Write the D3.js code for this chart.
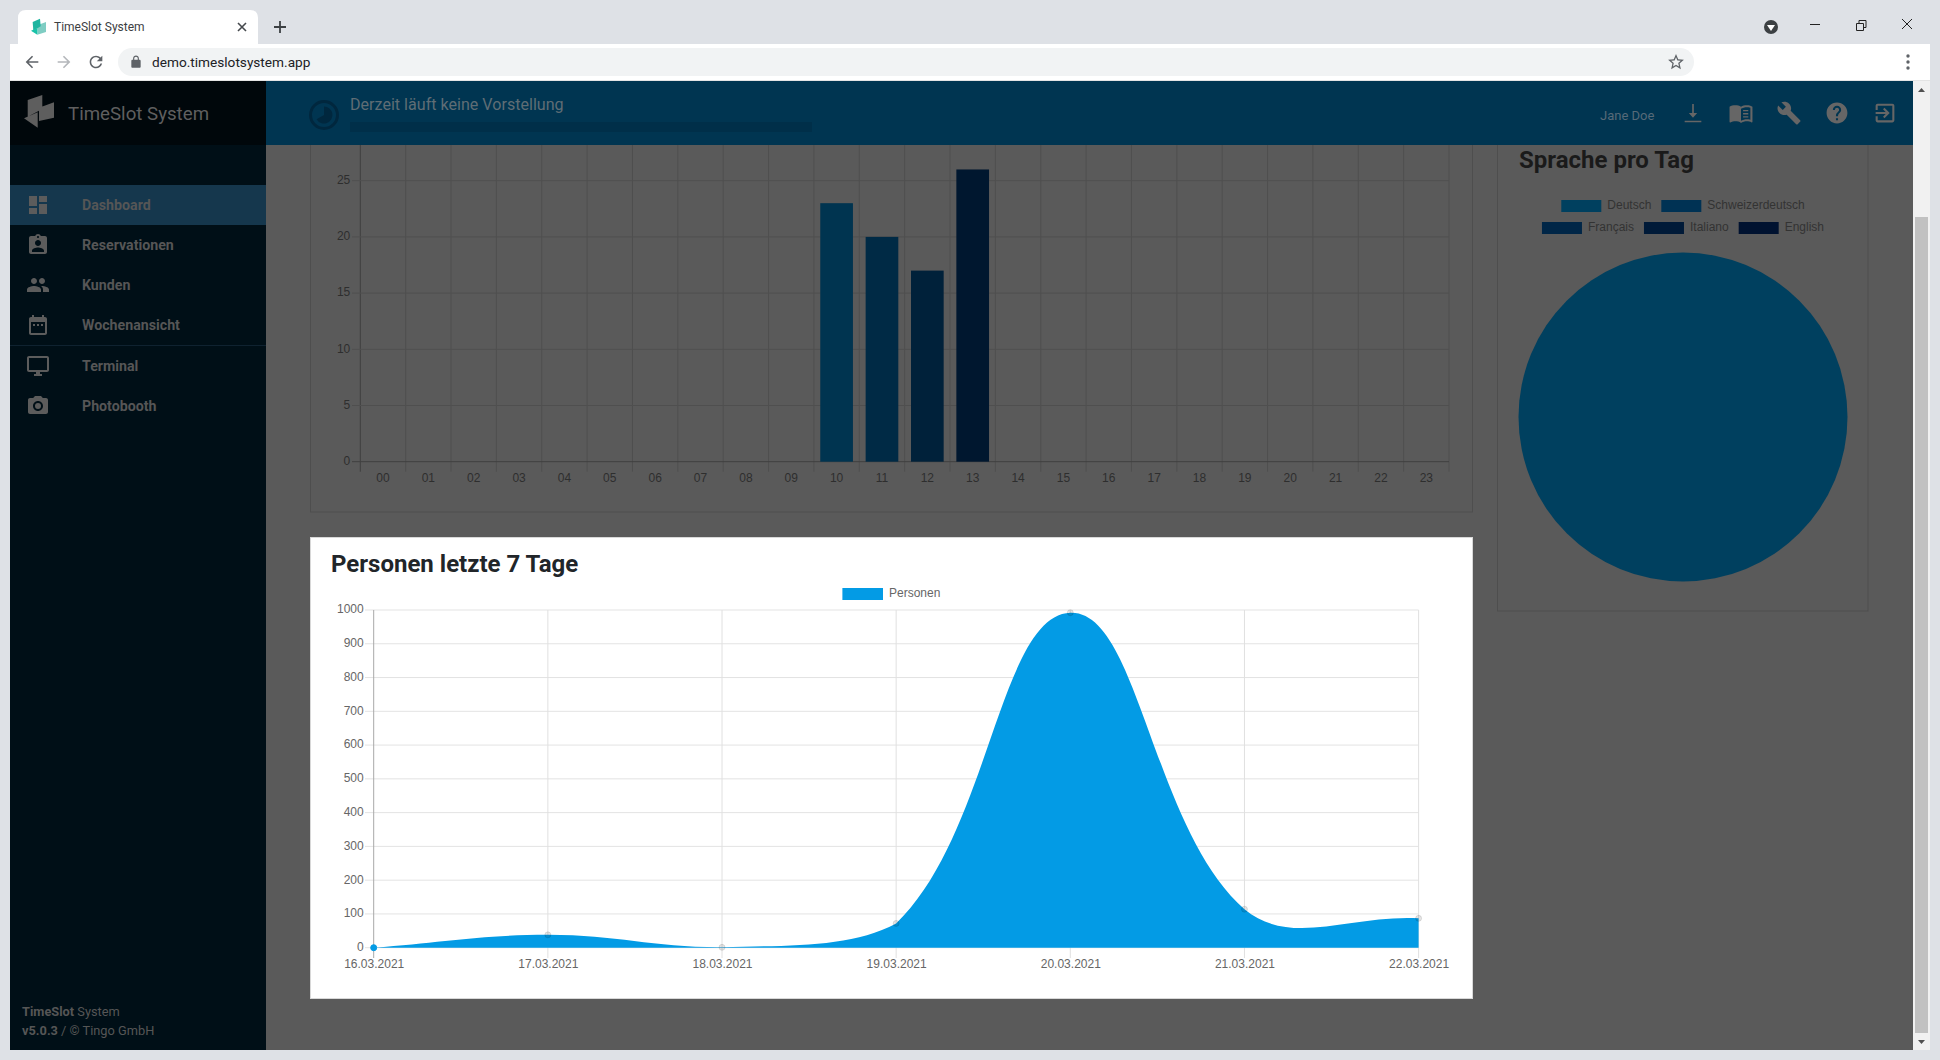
<!DOCTYPE html>
<html>
<head>
<meta charset="utf-8">
<title>TimeSlot System</title>
<script src="https://cdnjs.cloudflare.com/ajax/libs/d3/7.8.5/d3.min.js"></script>
<style>
  html, body { margin: 0; padding: 0; background: #dee1e6; overflow: hidden; }
  svg { display: block; }
  text { font-family: Roboto, sans-serif; }
  .chartjs text, text.chartjs { font-family: "Liberation Sans", Arial, sans-serif; font-size: 12px; }
</style>
</head>
<body>
<div id="page"></div>
<script>
// hourly bar chart
var hours = ["00","01","02","03","04","05","06","07","08","09","10","11","12","13","14","15","16","17","18","19","20","21","22","23"];
var hourValues = [0,0,0,0,0,0,0,0,0,0,23,20,17,26,0,0,0,0,0,0,0,0,0,0];
var hourTicks = [0,5,10,15,20,25,30];
var hourColors = ["#003450","#002a45","#00213a","#00172f"];

// language pie
var languages = ["Deutsch","Schweizerdeutsch","Français","Italiano","English"];
var languageValues = [100,0,0,0,0];
var languageColors = ["#00405f","#003254","#002647","#001a38","#001230"];

// persons line
var days = ["16.03.2021","17.03.2021","18.03.2021","19.03.2021","20.03.2021","21.03.2021","22.03.2021"];
var persons = [0,38,1,72,992,114,87];
var personTicks = [0,100,200,300,400,500,600,700,800,900,1000];

var menuLabels = ["Dashboard","Reservationen","Kunden","Wochenansicht","Terminal","Photobooth"];

// material icon paths
var icons = {
  dashboard: "M3 13h8V3H3v10zm0 8h8v-6H3v6zm10 0h8V11h-8v10zm0-18v6h8V3h-8z",
  assign: "M19 3h-4.18C14.4 1.84 13.3 1 12 1c-1.3 0-2.4.84-2.82 2H5c-1.1 0-2 .9-2 2v14c0 1.1.9 2 2 2h14c1.1 0 2-.9 2-2V5c0-1.1-.9-2-2-2zm-7 0c.55 0 1 .45 1 1s-.45 1-1 1-1-.45-1-1 .45-1 1-1zm0 4c1.66 0 3 1.34 3 3s-1.34 3-3 3-3-1.34-3-3 1.34-3 3-3zm6 12H6v-1.4c0-2 4-3.1 6-3.1s6 1.1 6 3.1V19z",
  people: "M16 11c1.66 0 2.99-1.34 2.99-3S17.66 5 16 5c-1.66 0-3 1.34-3 3s1.34 3 3 3zm-8 0c1.66 0 2.99-1.34 2.99-3S9.66 5 8 5C6.34 5 5 6.34 5 8s1.34 3 3 3zm0 2c-2.33 0-7 1.17-7 3.5V19h14v-2.5c0-2.33-4.67-3.5-7-3.5zm8 0c-.29 0-.62.02-.97.05 1.16.84 1.97 1.97 1.97 3.45V19h6v-2.5c0-2.33-4.67-3.5-7-3.5z",
  calendar: "M9 11H7v2h2v-2zm4 0h-2v2h2v-2zm4 0h-2v2h2v-2zm2-7h-1V2h-2v2H8V2H6v2H5c-1.11 0-1.99.9-1.99 2L3 20c0 1.1.89 2 2 2h14c1.1 0 2-.9 2-2V6c0-1.1-.9-2-2-2zm0 16H5V9h14v11z",
  desktop: "M21 2H3c-1.1 0-2 .9-2 2v12c0 1.1.9 2 2 2h7v2H8v2h8v-2h-2v-2h7c1.1 0 2-.9 2-2V4c0-1.1-.9-2-2-2zm0 14H3V4h18v12z",
  camera: "M9 2L7.17 4H4c-1.1 0-2 .9-2 2v12c0 1.1.9 2 2 2h16c1.1 0 2-.9 2-2V6c0-1.1-.9-2-2-2h-3.17L15 2H9zm3 15c-2.76 0-5-2.24-5-5s2.24-5 5-5 5 2.24 5 5-2.24 5-5 5zM12 9a3 3 0 1 0 0 6 3 3 0 0 0 0-6z",
  download: "M11.2 3.4h1.6v8.6H16l-4 4.6-4-4.6h3.2zM4 19.4h16v1.5H4z",
  book: "M21 5c-1.11-.35-2.33-.5-3.5-.5-1.95 0-4.05.4-5.5 1.5-1.45-1.1-3.55-1.5-5.5-1.5S2.45 4.9 1 6v14.65c0 .25.25.5.5.5.1 0 .15-.05.25-.05C3.1 20.45 5.05 20 6.5 20c1.95 0 4.05.4 5.5 1.5 1.35-.85 3.8-1.5 5.5-1.5 1.65 0 3.35.3 4.75 1.05.1.05.15.05.25.05.25 0 .5-.25.5-.5V6c-.6-.45-1.25-.75-2-1zm0 13.5c-1.1-.35-2.3-.5-3.5-.5-1.7 0-4.15.65-5.5 1.5V8c1.35-.85 3.8-1.5 5.5-1.5 1.2 0 2.4.15 3.5.5v11.5zM14 9h5v1.4h-5zm0 3h5v1.4h-5zm0 3h5v1.4h-5z",
  wrench: "M22.7 19l-9.1-9.1c.9-2.3.4-5-1.5-6.9-2-2-5-2.4-7.4-1.3L9 6 6 9 1.6 4.7C.4 7.1.9 10.1 2.9 12.1c1.9 1.9 4.6 2.4 6.9 1.5l9.1 9.1c.4.4 1 .4 1.4 0l2.3-2.3c.5-.4.5-1.1.1-1.4z",
  help: "M12 2C6.48 2 2 6.48 2 12s4.48 10 10 10 10-4.48 10-10S17.52 2 12 2zm1 17h-2v-2h2v2zm2.07-7.75l-.9.92C13.45 12.9 13 13.5 13 15h-2v-.5c0-1.1.45-2.1 1.17-2.83l1.24-1.26c.37-.36.59-.86.59-1.41 0-1.1-.9-2-2-2s-2 .9-2 2H8c0-2.21 1.79-4 4-4s4 1.79 4 4c0 .88-.36 1.68-.93 2.25z",
  exit: "M10.09 15.59L11.5 17l5-5-5-5-1.41 1.41L12.67 11H3v2h9.67l-2.58 2.59zM19 3H5c-1.11 0-2 .9-2 2v4h2V5h14v14H5v-4H3v4c0 1.1.89 2 2 2h14c1.1 0 2-.9 2-2V5c0-1.1-.9-2-2-2z",
  back: "M20 11H7.83l5.59-5.59L12 4l-8 8 8 8 1.41-1.41L7.83 13H20v-2z",
  forward: "M4 11h12.17l-5.59-5.59L12 4l8 8-8 8-1.41-1.41L16.17 13H4v-2z",
  reload: "M17.65 6.35C16.2 4.9 14.21 4 12 4c-4.42 0-7.99 3.58-7.99 8s3.57 8 7.99 8c3.73 0 6.84-2.55 7.73-6h-2.08c-.82 2.33-3.04 4-5.65 4-3.31 0-6-2.69-6-6s2.69-6 6-6c1.66 0 3.14.69 4.22 1.78L13 11h7V4l-2.35 2.35z",
  lock: "M18 8h-1V6c0-2.76-2.24-5-5-5S7 3.24 7 6v2H6c-1.1 0-2 .9-2 2v10c0 1.1.9 2 2 2h12c1.1 0 2-.9 2-2V10c0-1.1-.9-2-2-2zM9 6c0-1.66 1.34-3 3-3s3 1.34 3 3v2H9V6z",
  star: "M22 9.24l-7.19-.62L12 2 9.19 8.63 2 9.24l5.46 4.73L5.82 21 12 17.27 18.18 21l-1.63-7.03L22 9.24zM12 15.4l-3.76 2.27 1-4.28-3.32-2.88 4.38-.38L12 6.1l1.71 4.04 4.38.38-3.32 2.88 1 4.28L12 15.4z"
};
var menuIcons = ["dashboard","assign","people","calendar","desktop","camera"];
var headerIcons = ["download","book","wrench","help","exit"];

var svg = d3.select("#page").append("svg").attr("width", 1940).attr("height", 1060);

function txt(parent, x, y, s, size, color, weight, anchor) {
  return parent.append("text").attr("x", x).attr("y", y).attr("dy", "0.35em")
    .attr("font-size", size).attr("fill", color).attr("font-weight", weight || 400)
    .attr("text-anchor", anchor || "start").text(s);
}
function icon(parent, name, cx, cy, size, color) {
  var k = size / 24;
  parent.append("path").attr("d", icons[name]).attr("fill", color).attr("fill-rule", "evenodd")
    .attr("transform", "translate(" + (cx - 12 * k) + "," + (cy - 12 * k) + ") scale(" + k + ")");
}

// same spline chart.js draws with tension 0.4, control points capped to the chart area
function curveTension(tension, top, bottom) {
  return function(context) {
    return {
      areaStart: function() { this._line = 0; },
      areaEnd: function() { this._line = NaN; },
      lineStart: function() { this._p = []; },
      point: function(x, y) { this._p.push([x, y]); },
      lineEnd: function() {
        var p = this._p, n = p.length, cps = [];
        for (var i = 0; i < n; i++) {
          var a = p[Math.max(i - 1, 0)], b = p[i], c = p[Math.min(i + 1, n - 1)];
          var d01 = Math.hypot(b[0] - a[0], b[1] - a[1]), d12 = Math.hypot(c[0] - b[0], c[1] - b[1]);
          var sum = d01 + d12 || 1;
          var fa = tension * d01 / sum, fb = tension * d12 / sum;
          var dx = c[0] - a[0], dy = c[1] - a[1];
          cps.push({
            px: b[0] - fa * dx, py: Math.max(top, Math.min(bottom, b[1] - fa * dy)),
            nx: b[0] + fb * dx, ny: Math.max(top, Math.min(bottom, b[1] + fb * dy))
          });
        }
        if (this._line) context.lineTo(p[0][0], p[0][1]);
        else context.moveTo(p[0][0], p[0][1]);
        for (var j = 1; j < n; j++) {
          context.bezierCurveTo(cps[j - 1].nx, cps[j - 1].ny, cps[j].px, cps[j].py, p[j][0], p[j][1]);
        }
        if (this._line) context.closePath();
        this._line = 1 - this._line;
      }
    };
  };
}

// --- page background (dimmed by the tour overlay) ---
svg.append("rect").attr("x", 266).attr("y", 81).attr("width", 1647).attr("height", 969).attr("fill", "#5a5a5a");

// --- hourly bars card ---
var barCard = svg.append("g").attr("class", "chartjs");
barCard.append("rect").attr("x", 310.5).attr("y", 100).attr("width", 1162).attr("height", 412)
  .attr("fill", "none").attr("stroke", "#4e4e4e");

var barX = d3.scaleBand().domain(hours).range([360.3, 1449]).paddingInner(0.28).paddingOuter(0.14);
var barY = d3.scaleLinear().domain([0, 30]).range([461.7, 124.5]);
var step = barX.step();

barCard.append("g").selectAll("line").data(d3.range(25)).enter().append("line")
  .attr("x1", function(d) { return 360.3 + d * step; })
  .attr("x2", function(d) { return 360.3 + d * step; })
  .attr("y1", 124).attr("y2", 471.7)
  .attr("stroke", function(d) { return d == 0 ? "#3f3f3f" : "#4f4f4f"; });

barCard.append("g").selectAll("line").data(hourTicks).enter().append("line")
  .attr("x1", 352).attr("x2", 1449)
  .attr("y1", function(d) { return barY(d); }).attr("y2", function(d) { return barY(d); })
  .attr("stroke", function(d) { return d == 0 ? "#3f3f3f" : "#4f4f4f"; });

var barYAxis = d3.axisLeft(barY).tickValues(hourTicks).tickSize(0).tickPadding(10);
var byg = barCard.append("g").attr("transform", "translate(360.3,-1)").call(barYAxis);
byg.select(".domain").remove();
byg.selectAll("text").attr("fill", "#2e2e2e").attr("font-size", 12);

var barXAxis = d3.axisBottom(barX).tickSize(0).tickPadding(12);
var bxg = barCard.append("g").attr("transform", "translate(0,461.7)").call(barXAxis);
bxg.select(".domain").remove();
bxg.selectAll("text").attr("fill", "#2e2e2e").attr("font-size", 12);

barCard.append("g").selectAll("rect").data(hourValues).enter().append("rect")
  .attr("x", function(d, i) { return barX(hours[i]); })
  .attr("y", function(d) { return barY(d); })
  .attr("width", barX.bandwidth())
  .attr("height", function(d) { return barY(0) - barY(d); })
  .attr("fill", function(d, i) { return hourColors[(i - 10 + 4) % 4]; });

// --- language card ---
var langCard = svg.append("g");
langCard.append("rect").attr("x", 1497.5).attr("y", 100).attr("width", 370.5).attr("height", 511)
  .attr("fill", "none").attr("stroke", "#4e4e4e");
txt(langCard, 1519, 160, "Sprache pro Tag", 24, "#1a1a1a", 700);

var legendRows = [[0, 1], [2, 3, 4]];
legendRows.forEach(function(row, r) {
  var ly = 200 + r * 22;
  var items = row.map(function(i) {
    var g = langCard.append("g").attr("class", "chartjs");
    var t = g.append("text").attr("y", ly + 5).attr("dy", "0.35em").attr("fill", "#333").attr("font-size", 12).text(languages[i]);
    g.append("rect").attr("y", ly).attr("width", 40).attr("height", 12).attr("fill", languageColors[i]);
    return { g: g, w: 46 + t.node().getComputedTextLength() };
  });
  var total = d3.sum(items, function(d) { return d.w; }) + 10 * (items.length - 1);
  var cx = 1683 - total / 2;
  items.forEach(function(it) {
    it.g.attr("transform", "translate(" + cx + ",0)");
    it.g.select("text").attr("x", 46);
    cx += it.w + 10;
  });
});

var pie = d3.pie().sort(null);
var arc = d3.arc().innerRadius(0).outerRadius(164.5);
langCard.append("g").attr("transform", "translate(1683,417)")
  .selectAll("path").data(pie(languageValues)).enter().append("path")
  .attr("d", arc).attr("fill", function(d, i) { return languageColors[i]; });

// --- persons card, the one lit by the tour ---
var lineCard = svg.append("g").attr("class", "chartjs");
lineCard.append("rect").attr("x", 310.5).attr("y", 537.5).attr("width", 1162).attr("height", 461)
  .attr("fill", "#fff").attr("stroke", "#d8d8d8");
var lineTitle = txt(svg, 331, 564, "Personen letzte 7 Tage", 24, "#212529", 700);

lineCard.append("rect").attr("x", 842.4).attr("y", 588).attr("width", 40.6).attr("height", 12).attr("fill", "#039be5");
lineCard.append("text").attr("x", 889).attr("y", 593).attr("dy", "0.35em").attr("fill", "#666").attr("font-size", 12).text("Personen");

var lineX = d3.scalePoint().domain(days).range([373.7, 1418.6]);
var lineY = d3.scaleLinear().domain([0, 1000]).range([947.7, 610]);

lineCard.append("g").selectAll("line").data(personTicks).enter().append("line")
  .attr("x1", 365).attr("x2", 1418.6)
  .attr("y1", function(d) { return lineY(d); }).attr("y2", function(d) { return lineY(d); })
  .attr("stroke", "#e3e3e3");
lineCard.append("g").selectAll("line").data(days).enter().append("line")
  .attr("x1", function(d) { return lineX(d); }).attr("x2", function(d) { return lineX(d); })
  .attr("y1", 610).attr("y2", 958)
  .attr("stroke", function(d, i) { return i == 0 ? "#a8a8a8" : "#e0e0e0"; });

var lyg = lineCard.append("g").attr("transform", "translate(373.7,-1)")
  .call(d3.axisLeft(lineY).tickValues(personTicks).tickFormat(d3.format("d")).tickSize(0).tickPadding(10));
lyg.select(".domain").remove();
lyg.selectAll("text").attr("fill", "#666").attr("font-size", 12);

var lxg = lineCard.append("g").attr("transform", "translate(0,947.7)")
  .call(d3.axisBottom(lineX).tickSize(0).tickPadding(12));
lxg.select(".domain").remove();
lxg.selectAll("text").attr("fill", "#666").attr("font-size", 12);

var area = d3.area()
  .x(function(d, i) { return lineX(days[i]); })
  .y0(lineY(0))
  .y1(function(d) { return lineY(d); })
  .curve(curveTension(0.4, 610, 947.7));
lineCard.append("path").datum(persons).attr("d", area).attr("fill", "#039be5");

lineCard.append("g").selectAll("circle").data(persons).enter().append("circle")
  .attr("cx", function(d, i) { return lineX(days[i]); })
  .attr("cy", function(d) { return lineY(d); })
  .attr("r", 3)
  .attr("fill", function(d, i) { return i == 0 ? "#039be5" : "rgba(0,0,0,0.1)"; })
  .attr("stroke", function(d, i) { return i == 0 ? "#039be5" : "rgba(0,0,0,0.1)"; });

// --- app header ---
var head = svg.append("g");
head.append("rect").attr("x", 266).attr("y", 81).attr("width", 1647).attr("height", 64).attr("fill", "#003551");
head.append("circle").attr("cx", 324).attr("cy", 115).attr("r", 13.5).attr("fill", "none").attr("stroke", "#00273e").attr("stroke-width", 3);
head.append("path").attr("transform", "translate(324,115)").attr("fill", "#00273e")
  .attr("d", d3.arc().innerRadius(0).outerRadius(8.5)({ startAngle: 0, endAngle: 4.2 }));
txt(head, 350, 104, "Derzeit läuft keine Vorstellung", 16.1, "#5f6d75");
head.append("rect").attr("x", 350).attr("y", 122).attr("width", 462).attr("height", 10).attr("fill", "#002f49");
txt(head, 1600, 115, "Jane Doe", 13, "#566a78", 400);
headerIcons.forEach(function(n, i) { icon(head, n, 1693 + i * 48, 113, 25, "#666"); });

// --- sidebar ---
var side = svg.append("g");
side.append("rect").attr("x", 10).attr("y", 81).attr("width", 256).attr("height", 969).attr("fill", "#000f17");
side.append("rect").attr("x", 10).attr("y", 81).attr("width", 256).attr("height", 64).attr("fill", "#00070b");
side.append("path").attr("fill", "#5e5e5e").attr("d", "M27.7 100 L42.3 95 L42.3 109 L27.7 116.7 Z M39 107.7 L54 102.3 L54 117.7 L39 121 Z M24 118.3 L37.7 112.3 L37.7 127.7 Z");
txt(side, 68, 113, "TimeSlot System", 18.7, "#5f5f5f");
side.append("rect").attr("x", 10).attr("y", 185).attr("width", 256).attr("height", 40).attr("fill", "#15374d");
side.append("line").attr("x1", 10).attr("x2", 266).attr("y1", 345.5).attr("y2", 345.5).attr("stroke", "#0f2230");
var menuY = [205, 245, 285, 325, 366, 406];
menuLabels.forEach(function(l, i) {
  icon(side, menuIcons[i], 38, menuY[i], 24, "#5c5c5c");
  txt(side, 82, menuY[i], l, 14.2, "#565656", 700);
});
var foot1 = txt(side, 22, 1012, "", 12.8, "#565656");
foot1.append("tspan").attr("font-weight", 700).text("TimeSlot");
foot1.append("tspan").text(" System");
var foot2 = txt(side, 22, 1031, "", 12.8, "#565656");
foot2.append("tspan").attr("font-weight", 700).text("v5.0.3");
foot2.append("tspan").text(" / © Tingo GmbH");

// --- scrollbar ---
svg.append("rect").attr("x", 1913).attr("y", 81).attr("width", 17).attr("height", 969).attr("fill", "#f1f1f1");
svg.append("rect").attr("x", 1915).attr("y", 217).attr("width", 13).attr("height", 816).attr("fill", "#c1c1c1");
svg.append("path").attr("fill", "#505050").attr("d", "M1918 92 L1925 92 L1921.5 88 Z M1918 1040 L1925 1040 L1921.5 1044 Z");

// --- browser chrome ---
var chrome = svg.append("g");
chrome.append("rect").attr("width", 1940).attr("height", 44).attr("fill", "#dee1e6");
chrome.append("rect").attr("x", 10).attr("y", 44).attr("width", 1920).attr("height", 36).attr("fill", "#fff");
chrome.append("rect").attr("x", 10).attr("y", 80).attr("width", 1920).attr("height", 1).attr("fill", "#e4e4e4");
chrome.append("path").attr("fill", "#fff").attr("d", "M18 44 L18 18 Q18 10 26 10 L250 10 Q258 10 258 18 L258 44 Z");
chrome.append("path").attr("fill", "#7fcdc3").attr("d", "M37.3 25.3 L46 22 L46 32 L37.3 34.7 Z");
chrome.append("path").attr("fill", "#1fb5a0").attr("d", "M32.7 22 L40 18.7 L40.7 26.3 L33.3 30.7 Z");
chrome.append("path").attr("fill", "#19c2a8").attr("d", "M31 30.7 L37.3 28 L37.3 34.7 Z");
txt(chrome, 54, 27, "TimeSlot System", 12, "#3c4043");
chrome.append("path").attr("d", "M238 23 L246 31 M246 23 L238 31").attr("stroke", "#45494d").attr("stroke-width", 1.6);
chrome.append("path").attr("d", "M274 27 L286 27 M280 21 L280 33").attr("stroke", "#3c4043").attr("stroke-width", 1.8);
chrome.append("rect").attr("x", 118).attr("y", 48).attr("width", 1576).attr("height", 28).attr("rx", 14).attr("fill", "#f1f3f4");
icon(chrome, "back", 32, 62, 19, "#5f6368");
icon(chrome, "forward", 64, 62, 19, "#b4b7bb");
icon(chrome, "reload", 96, 62, 19, "#5f6368");
icon(chrome, "lock", 136, 62, 14, "#5f6368");
txt(chrome, 152, 62, "demo.timeslotsystem.app", 13.65, "#202124");
icon(chrome, "star", 1676, 62, 19, "#5f6368");
chrome.selectAll("circle.dot").data([-6, 0, 6]).enter().append("circle")
  .attr("cx", 1908).attr("cy", function(d) { return 62 + d; }).attr("r", 1.7).attr("fill", "#5f6368");
chrome.append("circle").attr("cx", 1771).attr("cy", 27).attr("r", 7).attr("fill", "#3c4043");
chrome.append("path").attr("d", "M1767 25 L1775 25 L1771 31 Z").attr("fill", "#fff");
chrome.append("line").attr("x1", 1810).attr("x2", 1820).attr("y1", 24.5).attr("y2", 24.5).attr("stroke", "#222");
chrome.append("path").attr("d", "M1856.5 23.5 h7 v7 h-7 z M1859 23 v-2.5 h7 v7 h-2").attr("fill", "none").attr("stroke", "#222");
chrome.append("path").attr("d", "M1902 19 L1912 29 M1912 19 L1902 29").attr("stroke", "#222");
</script>
</body>
</html>
